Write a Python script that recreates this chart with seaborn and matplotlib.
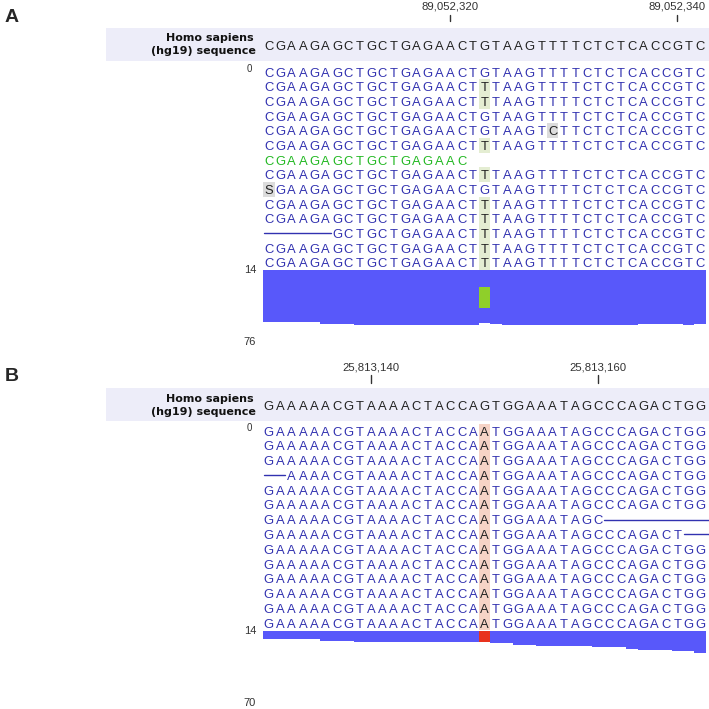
import numpy as np
import matplotlib
matplotlib.use("Agg")
import matplotlib.pyplot as plt
from matplotlib.patches import Rectangle
import seaborn as sns

# ---------------- panel A data ----------------
ref_a = "CGAAGAGCTGCTGAGAACTGTAAGTTTTCTCTCACCGTC"
tick_pos_a = [16, 36]
tick_labels_a = ["89,052,320", "89,052,340"]
read_start_a = [0, 0, 0, 0, 0, 0, 0, 0, 0, 0, 0, 6, 0, 0]
read_end_a = [38, 38, 38, 38, 38, 38, 17, 38, 38, 38, 38, 38, 38, 38]
read_alt_a = [{}, {19: "T"}, {19: "T"}, {}, {25: "C"}, {19: "T"}, {},
              {19: "T"}, {0: "S"}, {19: "T"}, {19: "T"}, {19: "T"},
              {19: "T"}, {19: "T"}]
read_color_a = ["blue"] * 6 + ["green"] + ["blue"] * 7
coverage_a = [55] * 5 + [57] * 3 + [58] * 11 + [56, 57] + [58] * 12 + [57] * 4 + [58, 57]
alt_cov_a = (19, 18, 40)          # column, from, to (reads)
depth_labels_a = ["14", "76"]

# ---------------- panel B data ----------------
ref_b = "GAAAAACGTAAAACTACCAGTGGAAATAGCCCAGACTGG"
tick_pos_b = [9, 29]
tick_labels_b = ["25,813,140", "25,813,160"]
read_start_b = [0, 0, 0, 2, 0, 0, 0, 0, 0, 0, 0, 0, 0, 0]
read_end_b = [38, 38, 38, 38, 38, 38, 29, 36, 38, 38, 38, 38, 38, 38]
read_alt_b = [{19: "A"} for _ in range(14)]
read_color_b = ["blue"] * 14
coverage_b = [8] * 5 + [10] * 3 + [11] * 11 + [11] + [12] * 2 + [14] * 2 + [15] * 5 + [16] * 3 + [18] + [19] * 3 + [20] * 2 + [22]
alt_cov_b = (19, 0, 11)
depth_labels_b = ["14", "70"]

# ---------------- style ----------------
sns.set_theme(style="white")
plt.rcParams["font.family"] = ["Liberation Sans", "DejaVu Sans"]

W = H = 709
BASE0_PX, BASE_PX = 268.85, 11.35
BLUE = "#3232b0"
GREEN = "#22b822"
COV_BLUE = "#5858fa"
BAND = "#ededf9"
GREY_HL = "#dcdcdc"
SEQ_FS = 9.4


def px_axes(fig, x0, y0, x1, y1):
    ax = fig.add_axes([x0 / W, 1 - y1 / H, (x1 - x0) / W, (y1 - y0) / H])
    ax.set_axis_off()
    return ax


def base_x(px):
    return (px - BASE0_PX) / BASE_PX


def draw_panel(fig, ref, tick_pos, tick_labels, starts, ends, alts, colors,
               coverage, alt_cov, alt_color, hl_color, depth_labels, g):
    def row(px):
        return (px - g["row0"]) / g["pitch"]

    xlim = (base_x(106), base_x(W))
    ax = px_axes(fig, 106, g["top"], W, g["cov_top"])
    ax.set_xlim(*xlim)
    ax.set_ylim(row(g["cov_top"]), row(g["top"]))

    # header band
    ax.axhspan(row(g["band"][1]), row(g["band"][0]), color=BAND, lw=0, zorder=0)
    ax.text(base_x(254), row(g["name_y"][0]), "Homo sapiens", ha="right", va="center",
            fontsize=8, fontweight="bold", family="DejaVu Sans", color="#111")
    ax.text(base_x(256), row(g["name_y"][1]), "(hg19) sequence", ha="right", va="center",
            fontsize=8, fontweight="bold", family="DejaVu Sans", color="#111")

    # position ticks
    for p, lab in zip(tick_pos, tick_labels):
        ax.plot([p, p], [row(g["tick_y"][0]), row(g["tick_y"][1])], color="#333", lw=1)
        ax.text(p, row(g["label_y"]), lab, ha="center", va="center", fontsize=8.2, color="#333")

    half = 0.31
    seq_y = row(g["seq_y"])
    for i, b in enumerate(ref):
        ax.text(i, seq_y + half, b, ha="center", va="baseline", fontsize=SEQ_FS, color="#222")

    ax.text(base_x(252.5), -0.2, "0", ha="right", va="center", fontsize=7, color="#333")

    n = len(ref)
    for r, (s, e, alt, col) in enumerate(zip(starts, ends, alts, colors)):
        c = BLUE if col == "blue" else GREEN
        if s > 0:
            ax.plot([-0.4, s - 0.55], [r, r], color=BLUE, lw=1)
        if e < n - 1 and col == "blue":
            ax.plot([e + 0.55, xlim[1]], [r, r], color=BLUE, lw=1)
        for i in range(s, e + 1):
            if i in alt:
                hl = hl_color if i == alt_cov[0] else GREY_HL
                ax.add_patch(Rectangle((i - 0.5, r - 0.5), 1, 1, color=hl, lw=0, zorder=1))
                ax.text(i, r + half, alt[i], ha="center", va="baseline", fontsize=SEQ_FS,
                        color="#222", zorder=2)
            else:
                ax.text(i, r + half, ref[i], ha="center", va="baseline", fontsize=SEQ_FS,
                        color=c, zorder=2)

    # coverage track
    axc = px_axes(fig, 106, g["cov_top"], W, g["cov_bottom"])
    scale = g["depth_val"] / g["depth_px"]
    sns.barplot(x=np.arange(n), y=coverage, native_scale=True, width=1, color=COV_BLUE,
                saturation=1, errorbar=None, linewidth=0, antialiased=False, ax=axc)
    col, lo, hi = alt_cov
    axc.bar(col, hi - lo, bottom=lo, width=1, color=alt_color, lw=0, antialiased=False)
    axc.set_xlim(*xlim)
    axc.set_ylim((g["cov_bottom"] - g["cov_top"]) * scale, 0)
    axc.set_axis_off()
    axc.text(base_x(256), 0, depth_labels[0], ha="right", va="center", fontsize=8, color="#333")
    axc.text(base_x(256), g["depth_val"], depth_labels[1], ha="right", va="center",
             fontsize=8, color="#333")


fig = plt.figure(figsize=(W / 100, H / 100), dpi=100)

geom_a = dict(top=0, row0=72, pitch=14.67, band=(28, 60.7), label_y=6.5, tick_y=(15, 21.5),
              name_y=(38, 51), seq_y=45, cov_top=270, cov_bottom=352, depth_px=72, depth_val=76)
geom_b = dict(top=352, row0=431, pitch=14.77, band=(388, 421), label_y=367, tick_y=(375, 383),
              name_y=(399, 412), seq_y=405, cov_top=630.5, cov_bottom=709, depth_px=72.2,
              depth_val=70)

draw_panel(fig, ref_a, tick_pos_a, tick_labels_a, read_start_a, read_end_a, read_alt_a,
           read_color_a, coverage_a, alt_cov_a, "#8fcf2a", "#e4edd2", depth_labels_a, geom_a)
draw_panel(fig, ref_b, tick_pos_b, tick_labels_b, read_start_b, read_end_b, read_alt_b,
           read_color_b, coverage_b, alt_cov_b, "#e8321e", "#f6d3c6", depth_labels_b, geom_b)

fig.text(12 / W, 1 - 17.8 / H, "A", ha="center", va="center", fontsize=14, fontweight="bold")
fig.text(12 / W, 1 - 376.7 / H, "B", ha="center", va="center", fontsize=14, fontweight="bold")

fig.savefig("out.png", dpi=100)
